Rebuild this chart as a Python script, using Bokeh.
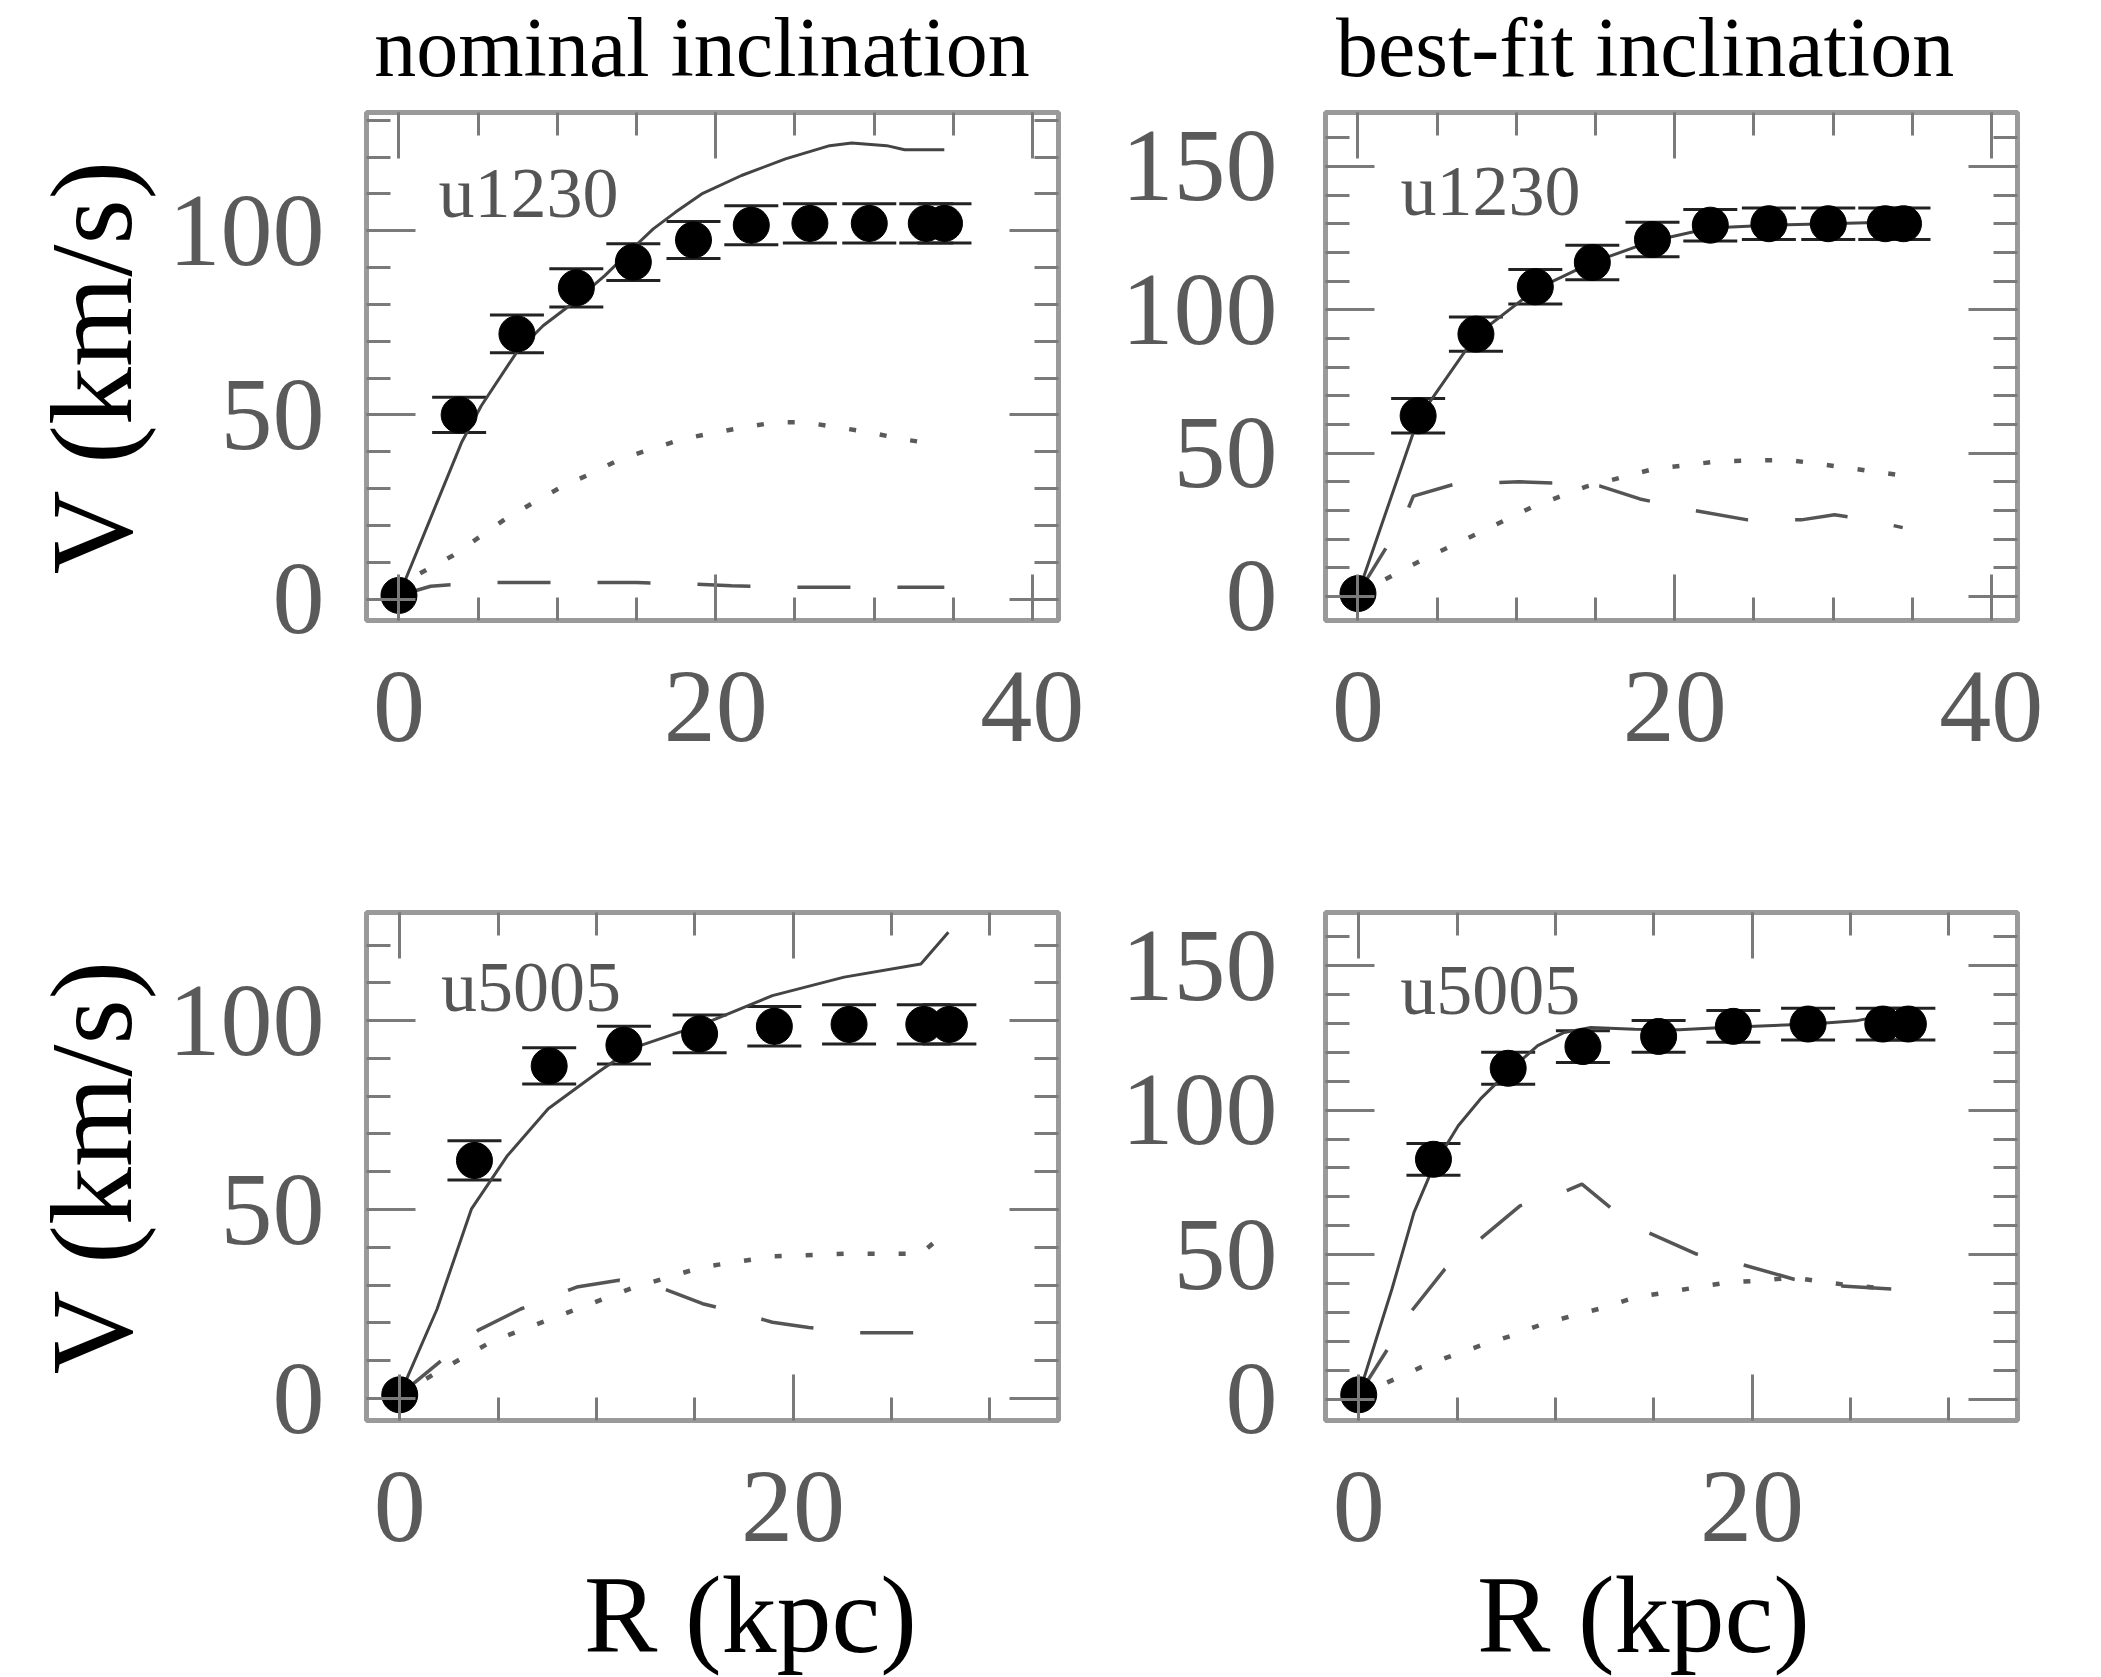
from bokeh.plotting import figure
from bokeh.models import (Range1d, LinearAxis, SingleIntervalTicker, Whisker, TeeHead,
                          ColumnDataSource, Label)
from bokeh.layouts import column, row
from bokeh.core.properties import value
from bokeh.embed import file_html
from bokeh.resources import INLINE

# ---------------- data: u1230 ----------------
r_u1230 = [0, 3.8, 7.45, 11.2, 14.8, 18.6, 22.25, 25.95, 29.7, 33.3, 34.45]
v_u1230_nom = [1, 50, 72, 84.5, 91.5, 97.5, 101.5, 102, 102, 102, 102]
e_u1230_nom = [0, 4.8, 5.1, 5.2, 5.0, 5.0, 5.3, 5.3, 5.3, 5.3, 5.3]
v_u1230_fit = [1, 63, 91.5, 108, 116.5, 124.5, 129.5, 130, 130, 130, 130]
e_u1230_fit = [0, 6.0, 6.0, 6.0, 6.0, 6.0, 5.5, 5.5, 5.5, 5.5, 5.5]

# nominal-inclination model curves (u1230)
r_tot_u1230_nom = [0, 2.14, 3.95, 5.2, 7.43, 9.1, 11.05, 13.0, 14.95, 16.06, 17.45,
                   19.12, 21.63, 24.41, 27.2, 28.59, 30.8, 31.93, 34.44]
v_tot_u1230_nom = [1, 23.5, 42.5, 52.5, 67, 74.2, 80.6, 87.8, 96, 100.5, 105,
                   110, 115, 119.5, 123.1, 123.8, 123.1, 122, 122]
r_gas_u1230_nom = [0, 1.02, 3.39, 5.2, 6.87, 8.54, 10.2, 12.03, 13.97, 15.92, 17.87,
                   19.82, 21.77, 23.72, 25.67, 27.75, 29.7, 31.8, 33.88]
v_gas_u1230_nom = [1, 6.3, 11.8, 17.2, 22.2, 26.3, 30.3, 33.9, 38, 40.7, 43.4,
                   45.1, 46.6, 48, 48, 46.6, 45.3, 43.4, 42.1]
r_disk_u1230_nom = [0, 2, 5, 10, 15, 18, 21, 25, 30, 34.44]
v_disk_u1230_nom = [1, 3.5, 4.5, 4.5, 4.5, 4.2, 3.6, 3.2, 3.2, 3.2]

# best-fit-inclination model curves (u1230)
r_tot_u1230_fit = [0, 3.8, 7.45, 11.2, 14.8, 18.6, 22.25, 25.95, 29.7, 33.3, 34.45]
v_tot_u1230_fit = [1, 62, 91, 107, 116.5, 124, 128.5, 129.5, 130, 130.5, 130.5]
r_gas_u1230_fit = [0, 4.25, 7.65, 11.0, 14.4, 18.7, 22.9, 27.2, 31.4, 34.8]
v_gas_u1230_fit = [1, 13.3, 22.2, 31.2, 38.3, 44.5, 47.2, 47.6, 44.5, 41.8]
r_disk_u1230_fit = [0, 2.9, 3.5, 6.0, 10.2, 12.7, 15.3, 17.8, 21.2, 24.6, 28.0, 30.1, 32.2, 34.4]
v_disk_u1230_fit = [1, 27, 35, 39, 40, 39.5, 38.5, 34, 30, 26.7, 26.7, 28.5, 26.7, 24]

# ---------------- data: u5005 ----------------
r_u5005 = [0, 3.8, 7.6, 11.4, 15.25, 19.05, 22.85, 26.65, 27.95]
v_u5005_nom = [1, 63, 88, 93.5, 96.5, 98.5, 99, 99, 99]
e_u5005_nom = [0, 5.2, 4.8, 5.0, 5.0, 5.2, 5.2, 5.2, 5.2]
v_u5005_fit = [1.5, 83, 114.5, 122, 125.5, 129, 129.8, 129.8, 129.8]
e_u5005_fit = [0, 5.5, 5.5, 5.5, 5.5, 5.5, 5.5, 5.5, 5.5]

r_tot_u5005_nom = [0, 1.9, 3.65, 5.45, 7.55, 10.1, 11.85, 15.4, 18.95, 22.6, 26.5, 27.9]
v_tot_u5005_nom = [1, 23.7, 50.2, 64.1, 76.7, 86.4, 92.7, 99, 106.6, 111.5, 115, 123.4]
r_gas_u5005_nom = [0, 1.9, 4.75, 8.3, 11.85, 15.4, 18.95, 22.6, 26.5, 27.9]
v_gas_u5005_nom = [1, 7, 15.3, 22.3, 29.3, 34.8, 37.6, 38.3, 38.3, 44.6]
r_disk_u5005_nom = [0, 4.0, 6.15, 9.0, 11.15, 13.3, 15.4, 17.55, 18.95, 20.8, 23.25, 26.2]
v_disk_u5005_nom = [1, 18.1, 23.7, 29.5, 31.3, 29.3, 25.1, 22.3, 20.2, 18.8, 17.4, 17.4]

r_tot_u5005_fit = [0, 1.69, 2.81, 3.82, 5.06, 6.18, 7.64, 9.1, 10.45, 11.8, 14.04,
                   16.29, 18.54, 20.78, 23.03, 25.28, 27.53]
v_tot_u5005_fit = [1.5, 38.1, 64.6, 80.8, 94.6, 103.8, 113.6, 122.3, 126.9, 128.6, 128,
                   127.8, 128.6, 129.2, 129.8, 130.9, 133.8]
r_gas_u5005_fit = [0, 1.46, 3.15, 4.72, 6.18, 7.75, 9.32, 10.9, 12.47, 14.04, 15.62,
                   17.19, 18.76, 20.45, 22.13, 23.71, 25.28, 27.08]
v_gas_u5005_fit = [1.5, 5.8, 11, 15, 18.5, 21.9, 25.9, 28.9, 31.7, 35.2, 36.9,
                   38.7, 40.4, 41, 42.1, 40.4, 39.2, 38.1]
r_disk_u5005_fit = [0, 2.7, 4.38, 6.07, 8.2, 10.56, 11.35, 12.8, 14.71, 17.18, 19.43,
                    22.13, 24.38, 27.08]
v_disk_u5005_fit = [1.5, 30.6, 45, 54.8, 66.9, 72.1, 74.4, 66.3, 57.7, 50.2, 46.7,
                    41.5, 39.2, 38.1]

# ---------------- texts ----------------
col_titles = ["nominal inclination", "best-fit inclination"]
galaxy_names = ["u1230", "u5005"]
x_label = "R (kpc)"
y_label = "V (km/s)"

SERIF = "Liberation Serif"
FRAME = "#9a9a9a"
TICK = "#7a7a7a"
LABEL = "#5a5a5a"
TICK_FONT = "104px"
MID = 0.3375   # distance (in em) from the alphabetic baseline up to the em-box middle

# ---------------- page geometry (pixels) ----------------
W_L, W_R = 1098, 1002                       # column widths
H_TITLE, H_TOP, H_BOT, H_XLAB = 98, 710, 745, 123   # row heights
TOTAL_W = W_L + W_R
PAGE_H = H_TITLE + H_TOP + H_BOT + H_XLAB


def style_axis(ax, tick_in, minor_in, show_labels, standoff):
    ax.axis_line_color = None
    ax.major_tick_in = tick_in
    ax.major_tick_out = 0
    ax.minor_tick_in = minor_in
    ax.minor_tick_out = 0
    ax.major_tick_line_color = TICK
    ax.minor_tick_line_color = TICK
    ax.major_tick_line_width = 3
    ax.minor_tick_line_width = 3
    ax.axis_label = None
    if show_labels:
        ax.major_label_text_font = SERIF
        ax.major_label_text_font_size = TICK_FONT
        ax.major_label_text_color = LABEL
        ax.major_label_standoff = standoff
    else:
        ax.major_label_text_font_size = "0px"
        ax.major_label_text_color = None
        ax.major_label_standoff = 0


def panel(w, h, xr, yr, bl, br, bt, bb, y_standoff,
          r_obs, v_obs, e_obs, r_tot, v_tot, r_gas, v_gas, r_disk, v_disk, name, name_xy):
    p = figure(width=w, height=h, x_range=Range1d(*xr), y_range=Range1d(*yr),
               output_backend="svg", toolbar_location=None, title=None,
               min_border_left=bl, min_border_right=br,
               min_border_top=bt, min_border_bottom=bb,
               background_fill_color="white", border_fill_color="white")
    p.xgrid.grid_line_color = None
    p.ygrid.grid_line_color = None
    p.outline_line_color = FRAME
    p.outline_line_width = 5

    p.below[0].ticker = SingleIntervalTicker(interval=20, num_minor_ticks=4)
    p.left[0].ticker = SingleIntervalTicker(interval=50, num_minor_ticks=5)
    style_axis(p.below[0], 46, 23, True, 52)
    style_axis(p.left[0], 49, 24, True, y_standoff)
    top = LinearAxis(ticker=SingleIntervalTicker(interval=20, num_minor_ticks=4))
    style_axis(top, 46, 23, False, 0)
    right = LinearAxis(ticker=SingleIntervalTicker(interval=50, num_minor_ticks=5))
    style_axis(right, 49, 24, False, 0)
    p.add_layout(top, "above")
    p.add_layout(right, "right")

    # model components
    p.line(r_gas, v_gas, line_color="#5a5a5a", line_width=4.5, line_dash="7 24")
    p.line(r_disk, v_disk, line_color="#555555", line_width=3.5, line_dash="53 47")
    p.line(r_tot, v_tot, line_color="#444444", line_width=3)

    # observed points with error bars
    src = ColumnDataSource(dict(
        r=r_obs[1:],
        lo=[v - e for v, e in zip(v_obs[1:], e_obs[1:])],
        hi=[v + e for v, e in zip(v_obs[1:], e_obs[1:])]))
    wh = Whisker(source=src, base="r", lower="lo", upper="hi", dimension="height",
                 line_color="#222222", line_width=3,
                 upper_head=TeeHead(size=54, line_width=3, line_color="#222222"),
                 lower_head=TeeHead(size=54, line_width=3, line_color="#222222"))
    p.add_layout(wh)
    p.scatter(r_obs, v_obs, size=36, fill_color="black", line_color="black")

    p.add_layout(Label(x=name_xy[0], y=name_xy[1], text=name, text_font=SERIF,
                       text_font_size="72px", text_color="#555555",
                       text_align="left", text_baseline="middle"))
    return p


def set_ylabel(p):
    ax = p.left[0]
    ax.axis_label = y_label
    ax.axis_label_text_font = SERIF
    ax.axis_label_text_font_size = "116px"
    ax.axis_label_text_font_style = "normal"
    ax.axis_label_text_color = "black"
    ax.axis_label_standoff = 10


def text_strip(w, h, xs, ys, texts, size):
    """A bare figure (pixel-unit ranges) that only carries text."""
    t = figure(width=w, height=h, x_range=Range1d(0, w), y_range=Range1d(0, h),
               output_backend="svg", toolbar_location=None, title=None,
               x_axis_location=None, y_axis_location=None, min_border=0,
               outline_line_color=None, background_fill_color="white",
               border_fill_color="white")
    t.grid.visible = False
    t.text(x=xs, y=ys, text=texts, text_font=value(SERIF),
           text_font_size=value(size), text_color="black", text_align="center",
           text_baseline="middle")
    return t


XR_TOP = (-2.05, 41.65)
XR_BOT = (-1.69, 33.5)

# column titles: alphabetic baseline 75 px below page top
t_mid = 75 - MID * 84
titles = text_strip(TOTAL_W, H_TITLE, [701.5, 1644.6], [H_TITLE - t_mid, H_TITLE - t_mid],
                    col_titles, "84px")

p1 = panel(W_L, H_TOP, XR_TOP, (-5.8, 132.1), 366, 40, 14, 188, 42,
           r_u1230, v_u1230_nom, e_u1230_nom,
           r_tot_u1230_nom, v_tot_u1230_nom, r_gas_u1230_nom, v_gas_u1230_nom,
           r_disk_u1230_nom, v_disk_u1230_nom, galaxy_names[0], (2.5, 110.2))
set_ylabel(p1)
p2 = panel(W_R, H_TOP, XR_TOP, (-8.4, 168.8), 227, 83, 14, 188, 48,
           r_u1230, v_u1230_fit, e_u1230_fit,
           r_tot_u1230_fit, v_tot_u1230_fit, r_gas_u1230_fit, v_gas_u1230_fit,
           r_disk_u1230_fit, v_disk_u1230_fit, galaxy_names[0], (2.69, 141.4))

p3 = panel(W_L, H_BOT, XR_BOT, (-5.8, 128.6), 366, 40, 104, 133, 42,
           r_u5005, v_u5005_nom, e_u5005_nom,
           r_tot_u5005_nom, v_tot_u5005_nom, r_gas_u5005_nom, v_gas_u5005_nom,
           r_disk_u5005_nom, v_disk_u5005_nom, galaxy_names[1], (2.10, 108.9))
set_ylabel(p3)
p4 = panel(W_R, H_BOT, XR_BOT, (-7.4, 168.4), 227, 83, 104, 133, 48,
           r_u5005, v_u5005_fit, e_u5005_fit,
           r_tot_u5005_fit, v_tot_u5005_fit, r_gas_u5005_fit, v_gas_u5005_fit,
           r_disk_u5005_fit, v_disk_u5005_fit, galaxy_names[1], (2.11, 141.7))

# x-axis titles: alphabetic baseline ~1651 px below page top (kept inside the page)
x_mid = 1651.5 - MID * 110
xlabs = text_strip(TOTAL_W, H_XLAB, [750, 1643], [PAGE_H - x_mid, PAGE_H - x_mid],
                   [x_label, x_label], "110px")

layout = column(titles,
                row(p1, p2),
                row(p3, p4),
                xlabs)

with open("out.html", "w") as f:
    f.write(file_html(layout, INLINE))
